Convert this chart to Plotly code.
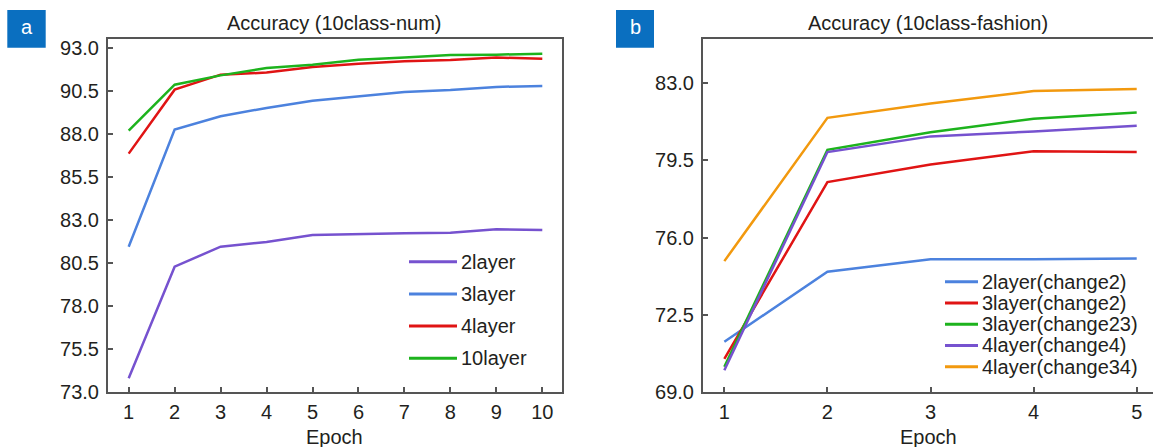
import plotly.graph_objects as go

# ---- data ----
epochs_num = [1, 2, 3, 4, 5, 6, 7, 8, 9, 10]
acc_2layer = [73.81, 80.29, 81.45, 81.72, 82.13, 82.19, 82.23, 82.26, 82.46, 82.42]
acc_3layer = [81.45, 88.24, 89.02, 89.50, 89.92, 90.18, 90.43, 90.54, 90.72, 90.78]
acc_4layer = [86.85, 90.56, 91.43, 91.55, 91.88, 92.07, 92.21, 92.28, 92.42, 92.36]
acc_10layer = [88.18, 90.85, 91.39, 91.82, 92.01, 92.30, 92.42, 92.57, 92.59, 92.65]

epochs_fashion = [1, 2, 3, 4, 5]
f_2layer_c2 = [71.29, 74.46, 75.02, 75.02, 75.06]
f_3layer_c2 = [70.51, 78.52, 79.32, 79.92, 79.88]
f_3layer_c23 = [70.16, 79.98, 80.78, 81.39, 81.67]
f_4layer_c4 = [70.00, 79.88, 80.59, 80.81, 81.07]
f_4layer_c34 = [74.94, 81.43, 82.08, 82.64, 82.74]

num_names = ["2layer", "3layer", "4layer", "10layer"]
fashion_names = ["2layer(change2)", "3layer(change2)", "3layer(change23)",
                 "4layer(change4)", "4layer(change34)"]

y_ticks_num = [73.0, 75.5, 78.0, 80.5, 83.0, 85.5, 88.0, 90.5, 93.0]
y_ticks_fashion = [69.0, 72.5, 76.0, 79.5, 83.0]

# ---- styling ----
W, H = 1153, 447
PURPLE = "#7652CF"
BLUE = "#4C82DE"
RED = "#E01414"
GREEN = "#1DB31D"
ORANGE = "#F2990E"
FRAME = "#555555"
TEXT = "#231F20"
FONT = "Liberation Sans, Arial, sans-serif"
FS = 20
LW = 2.5

num_series = [acc_2layer, acc_3layer, acc_4layer, acc_10layer]
num_colors = [PURPLE, BLUE, RED, GREEN]
fashion_series = [f_2layer_c2, f_3layer_c2, f_3layer_c23, f_4layer_c4, f_4layer_c34]
fashion_colors = [BLUE, RED, GREEN, PURPLE, ORANGE]


def px(x):
    return x / W


def py(y):
    return 1 - y / H


fig = go.Figure()

for name, ys, c in zip(num_names, num_series, num_colors):
    fig.add_trace(go.Scatter(x=epochs_num, y=ys, mode="lines", name=name,
                             line=dict(color=c, width=LW), xaxis="x", yaxis="y",
                             showlegend=False))

for name, ys, c in zip(fashion_names, fashion_series, fashion_colors):
    fig.add_trace(go.Scatter(x=epochs_fashion, y=ys, mode="lines", name=name,
                             line=dict(color=c, width=LW), xaxis="x2", yaxis="y2",
                             showlegend=False))

axis_common = dict(showgrid=False, zeroline=False, showline=True, linecolor=FRAME,
                   linewidth=2, ticks="inside", ticklen=5, tickwidth=1.5,
                   tickcolor=FRAME, automargin=False,
                   tickfont=dict(family=FONT, size=FS, color=TEXT))

plot_bottom, plot_top = py(392.3), py(39)

fig.update_layout(
    width=W, height=H, autosize=False,
    margin=dict(l=0, r=0, t=0, b=0, pad=0),
    paper_bgcolor="white", plot_bgcolor="white",
    showlegend=False,
    xaxis=dict(domain=[px(108), px(561.6)], range=[0.55, 10.42],
               tickvals=epochs_num, mirror=True, anchor="y",
               ticklabelstandoff=1, **axis_common),
    yaxis=dict(domain=[plot_bottom, plot_top], range=[73, 93.5],
               tickvals=y_ticks_num, tickformat=".1f", mirror=True, anchor="x",
               ticklabelstandoff=3, **axis_common),
    xaxis2=dict(domain=[px(703), 1.0], range=[0.793, 5.158],
                tickvals=epochs_fashion, mirror=True, anchor="y2",
                ticklabelstandoff=1, **axis_common),
    yaxis2=dict(domain=[plot_bottom, plot_top], range=[69, 85],
                tickvals=y_ticks_fashion, tickformat=".1f", mirror=False, anchor="x2",
                ticklabelstandoff=3, **axis_common),
)

shapes = []
annotations = []

# titles and axis labels
for text, xc in [("Accuracy (10class-num)", (108 + 561.6) / 2),
                 ("Accuracy (10class-fashion)", (703 + 1153) / 2)]:
    annotations.append(dict(text=text, x=px(xc), y=py(23), xref="paper", yref="paper",
                            xanchor="center", yanchor="middle", showarrow=False,
                            font=dict(family=FONT, size=FS, color=TEXT)))
for xc in [(108 + 561.6) / 2, (703 + 1153) / 2]:
    annotations.append(dict(text="Epoch", x=px(xc), y=py(436.5), xref="paper", yref="paper",
                            xanchor="center", yanchor="middle", showarrow=False,
                            font=dict(family=FONT, size=FS, color=TEXT)))

# panel badges
for letter, x0, x1 in [("a", 7.3, 45.7), ("b", 616, 654)]:
    shapes.append(dict(type="rect", xref="paper", yref="paper",
                       x0=px(x0), x1=px(x1), y0=py(47.7), y1=py(10),
                       fillcolor="#0A6FC0", line=dict(width=0)))
    annotations.append(dict(text=letter, x=px((x0 + x1) / 2), y=py(27), xref="paper",
                            yref="paper", xanchor="center", yanchor="middle",
                            showarrow=False, font=dict(family=FONT, size=FS, color="white")))


def legend(names, colors, x_line0, x_line1, x_text, y_rows):
    for name, c, yr in zip(names, colors, y_rows):
        shapes.append(dict(type="line", xref="paper", yref="paper",
                           x0=px(x_line0), x1=px(x_line1), y0=py(yr), y1=py(yr),
                           line=dict(color=c, width=3)))
        annotations.append(dict(text=name, x=px(x_text), y=py(yr), xref="paper",
                                yref="paper", xanchor="left", yanchor="middle",
                                showarrow=False,
                                font=dict(family=FONT, size=FS, color=TEXT)))


legend(num_names, num_colors, 409, 457, 459, [261.7, 293.9, 326.1, 358.3])
legend(fashion_names, fashion_colors, 945, 978, 980, [281.7, 302.9, 324.2, 345.4, 366.7])

fig.update_layout(shapes=shapes, annotations=annotations)

# keep the page exactly the figure's size (no body margin, no scrollbars)
page_fix = (
    "document.documentElement.style.margin='0';"
    "document.documentElement.style.overflow='hidden';"
    "document.body.style.margin='0';"
    "document.body.style.overflow='hidden';"
    "var gd=document.getElementById('{plot_id}');"
    "Plotly.relayout(gd,{width:%d,height:%d});" % (W, H)
)

fig.write_html("out.html", config={"responsive": False, "displayModeBar": False},
               post_script=page_fix)
